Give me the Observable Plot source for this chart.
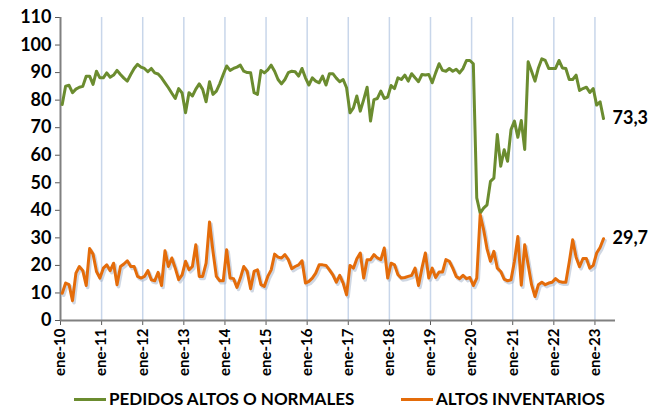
<!DOCTYPE html>
<html><head><meta charset="utf-8">
<script src="https://cdn.jsdelivr.net/npm/d3@7"></script>
<script src="https://cdn.jsdelivr.net/npm/@observablehq/plot@0.6"></script>
<style>
body{margin:0;background:#fff;font-family:Lato,sans-serif;}
#wrap{position:relative;width:648px;height:408px;}
#wrap svg{display:block;}
.leg{position:absolute;top:390px;height:18px;line-height:18px;font-weight:bold;font-size:17px;display:flex;align-items:center;white-space:nowrap;color:#000;}
.sw{display:inline-block;width:32px;height:3px;margin-right:3px;}
</style></head><body><div id="wrap"></div>
<script>
const seriesNames = ["PEDIDOS ALTOS O NORMALES", "ALTOS INVENTARIOS"];
const yearLabels = ["ene-10","ene-11","ene-12","ene-13","ene-14","ene-15","ene-16","ene-17","ene-18","ene-19","ene-20","ene-21","ene-22","ene-23"];
const yTicks = [0,10,20,30,40,50,60,70,80,90,100,110];
// monthly, Jan 2010 .. Mar 2023
const pedidos = [
78.4,85.1,85.4,82.7,84,84.7,85,88.7,88.7,85.7,90.5,88.1,
88.1,89.9,88.3,89.1,90.8,89.3,88,86.9,89.3,91.5,93,92,
91.5,90.3,91.5,89.9,89.5,88.1,86.3,84.5,82.5,80.6,84.2,82.6,
75.4,82.7,81.5,84,85.9,83.9,79.4,86.7,82.1,83.3,86,89.3,
92.4,90.8,91.5,92,92.7,90.5,90,89.9,82.7,82.1,90.8,89.9,
91,92.7,90.5,87.5,85.9,87.5,90,90.5,90.3,88.7,91.5,88.1,
85.5,88.1,86.9,86.3,88.7,85.5,89.6,89.6,88,86.7,87.5,84.5,
75.4,77.2,81.5,76,80.2,84.7,72.4,80.2,80.6,83.3,80.6,81.1,
85.3,84.2,88.1,87.5,89.1,86.9,89.6,88.1,86.7,89.3,89.1,89.3,
86.3,89.9,93.2,90.8,90.5,91.5,90.5,91.2,89.9,91.5,94.4,94.4,
93.2,44.5,39,40.8,42,50.5,51.7,67.5,56,62,57.8,69.3,
72.4,66.5,72.6,62.1,93.9,90.5,86.9,91.7,95,94.4,91.5,91.5,
91.5,94.4,91.7,91.5,87.5,87.5,89.1,83.5,84.2,84.7,82.8,84.2,
78.2,79.4,73.3
];
const inventarios = [
9.9,13.6,13,7.2,17.2,19.6,18.1,12.7,26.1,24.1,17.8,15.4,
19,20.2,18.1,20.8,13,19.6,20.5,21.7,19.6,19.6,16,15.4,
16,18.1,14.8,14.4,17.5,12.7,25.3,19.6,22.7,19,14.8,16.6,
21.5,18.4,19.6,27.5,16,16,20.8,35.8,25.1,16,14.4,14.4,
25.7,15.4,15.2,12,15.4,19.6,17.8,11.5,17.8,18.4,13,12.4,
16,18.4,24.1,23,22.7,23.9,22.1,18.8,19.6,20.2,21.7,13.6,
14.2,15.4,17.2,20.2,20.2,20,18.4,16.6,13.9,16.4,13.6,9.3,
20,19,22.4,24.5,15.4,22.1,22.1,23.9,22.7,22.1,26.3,15.4,
20.8,20.2,16.6,15.4,15.6,16,16.4,19,12.7,19,24.5,15.4,
19,15.6,17.6,17.6,22.1,21.5,19,16,15.2,16.4,15.2,15.6,
12.7,15.4,38.4,33,26,21.5,25.1,19,17.8,15,14.4,14.8,
21.5,30.5,12.8,27.5,20.2,13,8.7,13,13.9,13,13.6,13.9,
15.2,14.2,13.9,13.9,21.2,29.3,23,19.5,22.5,22.5,19,20,
24.5,26.5,29.7
];
const GREEN = "#6b8c2f", ORANGE = "#e46c0a";
const rows = pedidos.map((v, i) => ({i, pedidos: v, inventarios: inventarios[i]}));
const n = rows.length;
const tickPos = yearLabels.map((_, k) => k * 12);
const xPos = d => d.i + 0.5;
const fmt = v => v.toFixed(1).replace(".", ",");

const chart = Plot.plot({
  width: 648, height: 385,
  marginLeft: 60, marginRight: 33, marginTop: 17, marginBottom: 65,
  x: {domain: [0, 162], axis: null},
  y: {domain: [0, 110], axis: null},
  style: {fontFamily: "Lato, sans-serif", fontWeight: "bold", background: "#fff", overflow: "visible", color: "#000"},
  marks: [
    Plot.gridX(tickPos.slice(1), {stroke: "#c8d6ea", strokeOpacity: 1, strokeWidth: 1.5}),
    Plot.axisY(yTicks, {tickSize: 5, tickPadding: 4, fontSize: 18, stroke: "#595959", fill: "#000"}),
    Plot.axisX(tickPos, {tickFormat: d => yearLabels[d / 12], tickRotate: -90, tickSize: 5, tickPadding: 3, fontSize: 15, stroke: "#595959", fill: "#000"}),
    Plot.ruleX([0], {stroke: "#808080", strokeWidth: 2}),
    Plot.ruleY([0], {stroke: "#808080", strokeWidth: 2}),
    Plot.line(rows, {x: xPos, y: "pedidos", stroke: GREEN, strokeWidth: 3}),
    Plot.line(rows, {x: xPos, y: "inventarios", stroke: "#9fb0c8", strokeWidth: 3.5, dx: 1.5, dy: 2, strokeOpacity: 0.5}),
    Plot.line(rows, {x: xPos, y: "inventarios", stroke: ORANGE, strokeWidth: 3}),
    Plot.text([rows[n - 1]], {x: xPos, y: "pedidos", text: d => fmt(d.pedidos), dx: 9, textAnchor: "start", fontSize: 18, fill: "#000"}),
    Plot.text([rows[n - 1]], {x: xPos, y: "inventarios", text: d => fmt(d.inventarios), dx: 9, textAnchor: "start", fontSize: 18, fill: "#000"})
  ]
});
const wrap = document.getElementById("wrap");
wrap.appendChild(chart);
const legDefs = [[seriesNames[0], GREEN, 74], [seriesNames[1], ORANGE, 401]];
for (const [name, col, left] of legDefs) {
  const d = document.createElement("div");
  d.className = "leg";
  d.style.left = left + "px";
  const s = document.createElement("span");
  s.className = "sw"; s.style.background = col;
  d.appendChild(s);
  d.appendChild(document.createTextNode(name));
  wrap.appendChild(d);
}
</script>
</body></html>
